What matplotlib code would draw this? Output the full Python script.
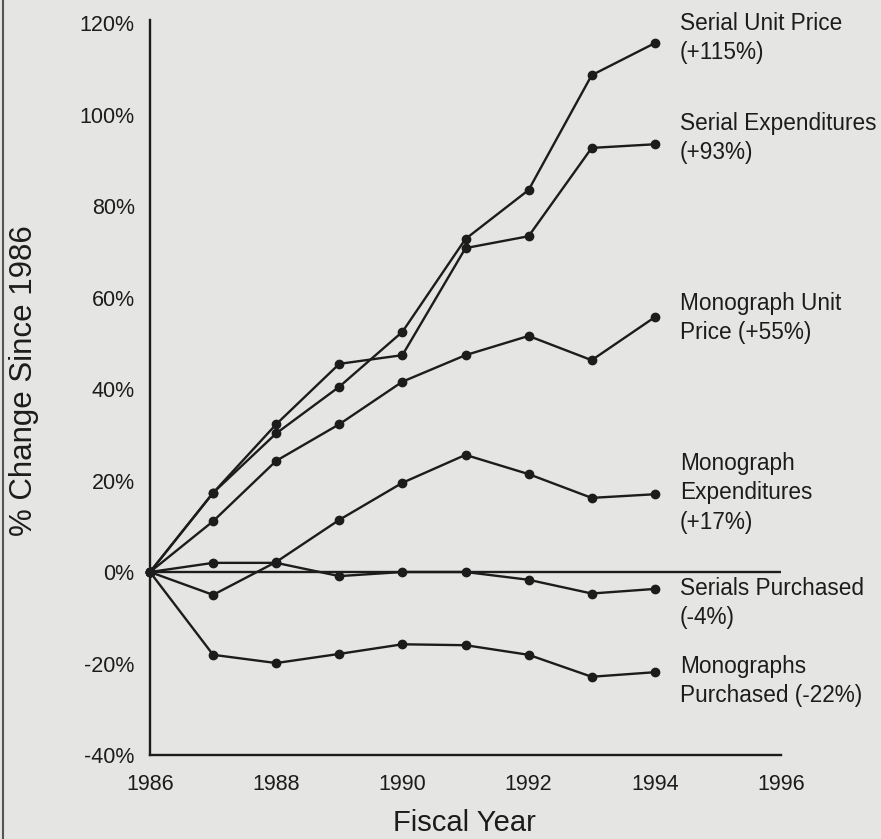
import matplotlib.pyplot as plt
from matplotlib.lines import Line2D

years = [1986, 1987, 1988, 1989, 1990, 1991, 1992, 1993, 1994]

serial_unit_price = [0, 17.3, 30.3, 40.5, 52.5, 72.8, 83.5, 108.6, 115.6]
serial_expenditures = [0, 17.3, 32.3, 45.5, 47.4, 70.8, 73.4, 92.7, 93.5]
monograph_unit_price = [0, 11.1, 24.3, 32.3, 41.6, 47.4, 51.6, 46.3, 55.7]
monograph_expenditures = [0, -5.0, 2.2, 11.4, 19.5, 25.6, 21.4, 16.2, 17.0]
serials_purchased = [0, 2.0, 2.0, -0.9, 0.0, 0.0, -1.7, -4.7, -3.7]
monographs_purchased = [0, -18.1, -19.9, -17.9, -15.8, -16.0, -18.1, -22.9, -21.9]

series = [serial_unit_price, serial_expenditures, monograph_unit_price,
          monograph_expenditures, serials_purchased, monographs_purchased]
labels = ["Serial Unit Price\n(+115%)",
          "Serial Expenditures\n(+93%)",
          "Monograph Unit\nPrice (+55%)",
          "Monograph\nExpenditures\n(+17%)",
          "Serials Purchased\n(-4%)",
          "Monographs\nPurchased (-22%)"]
label_y = [116.7, 94.9, 55.5, 17.3, -6.8, -23.9]

x_ticks = [1986, 1988, 1990, 1992, 1994, 1996]
y_ticks = [-40, -20, 0, 20, 40, 60, 80, 100, 120]

ink = "#1c1c1c"
paper = "#e5e5e3"
plt.rcParams["font.family"] = ["Liberation Sans", "DejaVu Sans"]

fig = plt.figure(figsize=(8.81, 8.39), dpi=100, facecolor=paper)
ax = fig.add_axes([150 / 881, 84 / 839, 631 / 881, 735 / 839])
ax.set_facecolor(paper)

for vals in series:
    ax.plot(years, vals, color=ink, lw=1.7, marker="o", ms=6, clip_on=False)

for text, y in zip(labels, label_y):
    ax.text(1994.4, y, text, ha="left", va="center", fontsize=16.3,
            color=ink, linespacing=1.35, clip_on=False)

ax.axhline(0, color=ink, lw=1.7)

ax.set_xlim(1986, 1996)
ax.set_ylim(-40, 120.66)
ax.set_xticks(x_ticks)
ax.set_xticklabels([str(x) for x in x_ticks])
ax.set_yticks(y_ticks)
ax.set_yticklabels([f"{y}%" for y in y_ticks])
ax.tick_params(length=0, labelsize=15.5, colors=ink)
ax.tick_params(axis="x", pad=14)
ax.tick_params(axis="y", pad=11)

for s in ["top", "right"]:
    ax.spines[s].set_visible(False)
for s in ["left", "bottom"]:
    ax.spines[s].set_linewidth(1.7)
    ax.spines[s].set_color(ink)

ax.set_xlabel("Fiscal Year", fontsize=21, color=ink)
ax.xaxis.set_label_coords(0.499, -0.074)
ax.set_ylabel("% Change Since 1986", fontsize=22.5, color=ink)
ax.yaxis.set_label_coords(-0.176, 0.509)

# scan border on the left edge
fig.add_artist(Line2D([3 / 881, 3 / 881], [0, 1], color="#555555", lw=1.5))

fig.savefig("out.png", dpi=100, facecolor=paper)
